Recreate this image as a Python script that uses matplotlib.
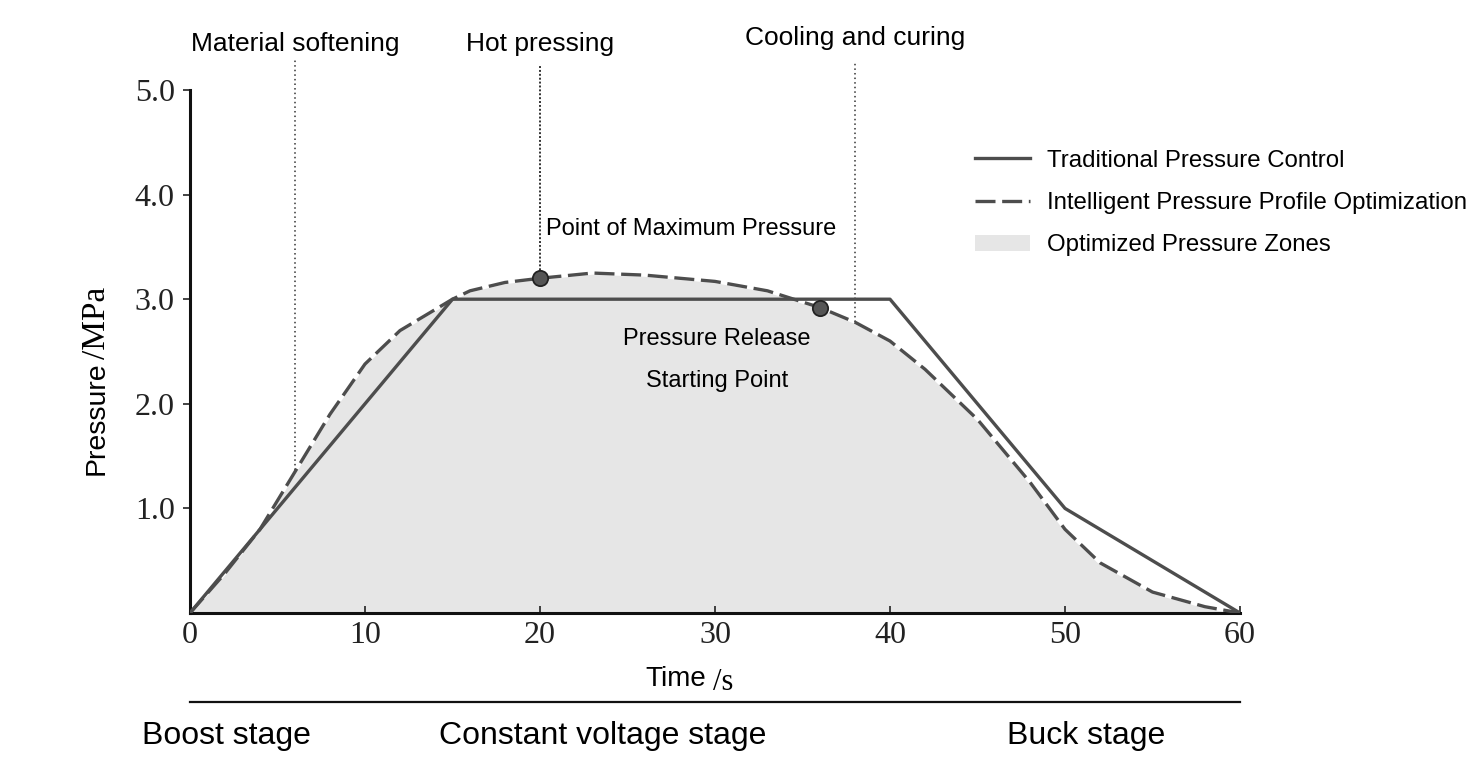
import matplotlib.pyplot as plt
import numpy as np

# Traditional pressure control (piecewise)
trad_t = [0, 15, 40, 50, 60]
trad_p = [0, 3.0, 3.0, 1.0, 0]

# Intelligent pressure profile
opt_t = [0, 2, 4, 6, 8, 10, 12, 14, 15, 16, 18, 20, 23, 26, 30, 33, 36, 38, 40,
         42, 45, 48, 50, 52, 55, 58, 60]
opt_p = [0, 0.38, 0.8, 1.35, 1.9, 2.38, 2.7, 2.9, 3.0, 3.08, 3.16, 3.2, 3.25, 3.23,
         3.17, 3.08, 2.92, 2.78, 2.6, 2.33, 1.85, 1.25, 0.8, 0.48, 0.2, 0.06, 0]

# key points
mark_t = [20, 36]
mark_p = [3.2, 2.92]

# phase markers
phase_x = [6, 20, 38]
phase_bottom = [1.37, 3.2, 2.78]
phase_top = [5.29, 5.24, 5.27]
phase_labels = ["Material softening", "Hot pressing", "Cooling and curing"]
phase_label_y = [5.44, 5.44, 5.50]

stage_labels = ["Boost stage", "Constant voltage stage", "Buck stage"]
stage_x = [226, 603, 1086]  # pixel centres along the bottom band

x_ticks = [0, 10, 20, 30, 40, 50, 60]
y_ticks = [1.0, 2.0, 3.0, 4.0, 5.0]

W, H = 1483, 769
fig = plt.figure(figsize=(W / 100, H / 100), dpi=100)
ax = fig.add_axes([190 / W, 1 - 613 / H, 1050 / W, 523 / H])

line_col = '#4d4d4d'
sans = 'Liberation Sans'
serif = 'Liberation Serif'

h_fill = ax.fill_between(opt_t, opt_p, color='#e6e6e6', lw=0, zorder=1)
h_trad, = ax.plot(trad_t, trad_p, color=line_col, lw=2.4, zorder=3)
ax.plot(opt_t, opt_p, color='white', lw=2.4, zorder=2)
h_opt, = ax.plot(opt_t, opt_p, color=line_col, lw=2.4, ls=(0, (6, 2)), zorder=4)

for x, yb, yt in zip(phase_x, phase_bottom, phase_top):
    ax.plot([x, x], [yb, yt], color='#333333', lw=1.4 if x == 20 else 1.1,
            ls=(0, (1, 2)) if x != 20 else (0, (1, 1)), clip_on=False, zorder=2)
for x, lab, ly in zip(phase_x, phase_labels, phase_label_y):
    ax.text(x, ly, lab, ha='center', va='center', fontsize=19, family=sans, clip_on=False)

ax.plot(mark_t, mark_p, 'o', ms=11, mfc='#555555', mec='#222222', mew=1.3, zorder=5)

ax.text(20.35, 3.67, "Point of Maximum Pressure", ha='left', va='center', fontsize=17, family=sans)
ax.text(30.1, 2.62, "Pressure Release", ha='center', va='center', fontsize=17, family=sans)
ax.text(30.1, 2.22, "Starting Point", ha='center', va='center', fontsize=17, family=sans)

ax.set_xlim(0, 60)
ax.set_ylim(0, 5)
ax.set_xticks(x_ticks)
ax.set_xticklabels([str(t) for t in x_ticks], family=serif, fontsize=23)
ax.set_yticks(y_ticks)
ax.set_yticklabels([f"{t:.1f}" for t in y_ticks], family=serif, fontsize=23)
ax.tick_params(axis='x', direction='in', length=5, width=1.2, pad=6, colors='#222222')
ax.tick_params(axis='y', direction='out', length=5, width=1.2, pad=6, colors='#222222')
for s in ['top', 'right']:
    ax.spines[s].set_visible(False)
for s in ['left', 'bottom']:
    ax.spines[s].set_linewidth(2.2)
    ax.spines[s].set_color('#111111')

# axis labels: sans word + serif unit
fig.text(97 / W, 1 - 418 / H, "Pressure", rotation=90, ha='center', va='center', fontsize=20.5, family=sans)
fig.text(97 / W, 1 - 323 / H, "/MPa", rotation=90, ha='center', va='center', fontsize=24, family=serif)
fig.text(676 / W, 1 - 679 / H, "Time", ha='center', va='center', fontsize=20, family=sans)
fig.text(723 / W, 1 - 682 / H, "/s", ha='center', va='center', fontsize=22, family=serif)

ax.legend([h_trad, h_opt, h_fill],
          ['Traditional Pressure Control', 'Intelligent Pressure Profile Optimization',
           'Optimized Pressure Zones'],
          loc='upper left', bbox_to_anchor=(953 / W, 1 - 128 / H), bbox_transform=fig.transFigure,
          frameon=False, handlelength=2.3, handletextpad=0.7, labelspacing=0.85,
          prop={'family': sans, 'size': 17.3})

# stage band below the plot
fig.add_artist(plt.Line2D([190 / W, 1240 / W], [1 - 702 / H, 1 - 702 / H], color='#111111', lw=1.6))
for x, lab in zip(stage_x, stage_labels):
    fig.text(x / W, 1 - 736 / H, lab, ha='center', va='center', fontsize=23, family=sans)

fig.savefig("out.png", dpi=100)
